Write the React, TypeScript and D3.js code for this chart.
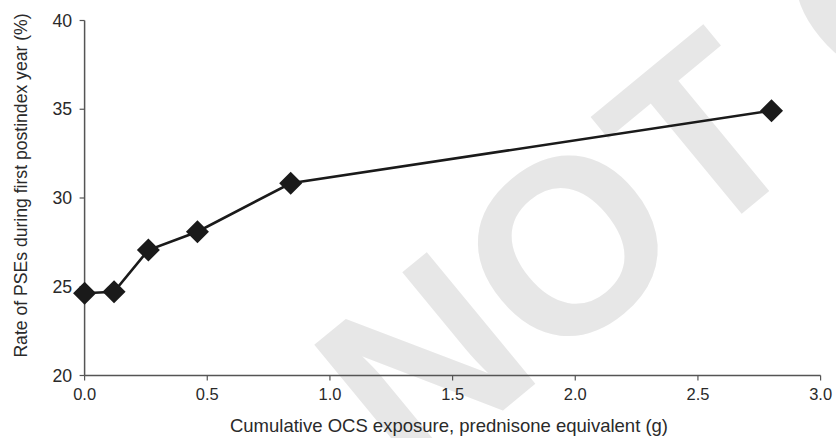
import React from "react";
import * as d3 from "d3";

const exposureG = [0.0, 0.12, 0.26, 0.46, 0.84, 2.8];
const psesRate = [24.63, 24.72, 27.07, 28.1, 30.83, 34.92];
const xTicks = [0, 0.5, 1.0, 1.5, 2.0, 2.5, 3.0];
const yTicks = [20, 25, 30, 35, 40];
const xTitle = "Cumulative OCS exposure, prednisone equivalent (g)";
const yTitle = "Rate of PSEs during first postindex year (%)";
const watermark = "NOT COPY";

const W = 836;
const H = 438;

export default function App() {
  const x = d3.scaleLinear().domain([0, 3]).range([84.6, 820.6]);
  const y = d3.scaleLinear().domain([20, 40]).range([375.5, 20.5]);
  const pts = exposureG.map((v, i) => [v, psesRate[i]] as [number, number]);
  const line = d3
    .line<[number, number]>()
    .x((d) => x(d[0]))
    .y((d) => y(d[1]));
  const diamond = d3.symbol().type(d3.symbolSquare).size(265)();
  const font = "'Liberation Sans', Arial, sans-serif";
  const axisColor = "#555";
  const textColor = "#2a2a2a";

  return (
    <div style={{ position: "absolute", left: 0, top: 0 }}>
      <svg width={W} height={H} style={{ display: "block", background: "#fff" }}>
        <text
          transform="translate(410,487) rotate(-39.5)"
          fontFamily={font}
          fontWeight="bold"
          fontSize={248}
          fill="#e7e7e7"
        >
          {watermark}
        </text>

        {/* y axis */}
        <line x1={x(0)} x2={x(0)} y1={y(40)} y2={y(20)} stroke={axisColor} strokeWidth={1.5} />
        {yTicks.map((t) => (
          <g key={"y" + t}>
            <line x1={x(0) - 5} x2={x(0)} y1={y(t)} y2={y(t)} stroke={axisColor} strokeWidth={1.2} />
            <text
              x={x(0) - 12.5}
              y={y(t)}
              dy="0.35em"
              textAnchor="end"
              fontFamily={font}
              fontSize={17.7}
              fill={textColor}
            >
              {t}
            </text>
          </g>
        ))}

        {/* x axis */}
        <line x1={x(0)} x2={x(3)} y1={y(20)} y2={y(20)} stroke={axisColor} strokeWidth={1.5} />
        {xTicks.map((t) => (
          <g key={"x" + t}>
            <line x1={x(t)} x2={x(t)} y1={y(20)} y2={y(20) + 5} stroke={axisColor} strokeWidth={1.2} />
            <text
              x={x(t)}
              y={400}
              textAnchor="middle"
              fontFamily={font}
              fontSize={16.5}
              fill={textColor}
            >
              {t.toFixed(1)}
            </text>
          </g>
        ))}

        <text
          x={449}
          y={432}
          textAnchor="middle"
          fontFamily={font}
          fontSize={18.5}
          fill={textColor}
        >
          {xTitle}
        </text>
        <text
          transform={`translate(27,185.5) rotate(-90)`}
          textAnchor="middle"
          fontFamily={font}
          fontSize={17.6}
          fill={textColor}
        >
          {yTitle}
        </text>

        <path d={line(pts) || ""} fill="none" stroke="#1a1a1a" strokeWidth={2.6} />
        {pts.map((p, i) => (
          <path
            key={i}
            d={diamond || ""}
            transform={`translate(${x(p[0])},${y(p[1])}) rotate(45)`}
            fill="#1a1a1a"
          />
        ))}
      </svg>
    </div>
  );
}
